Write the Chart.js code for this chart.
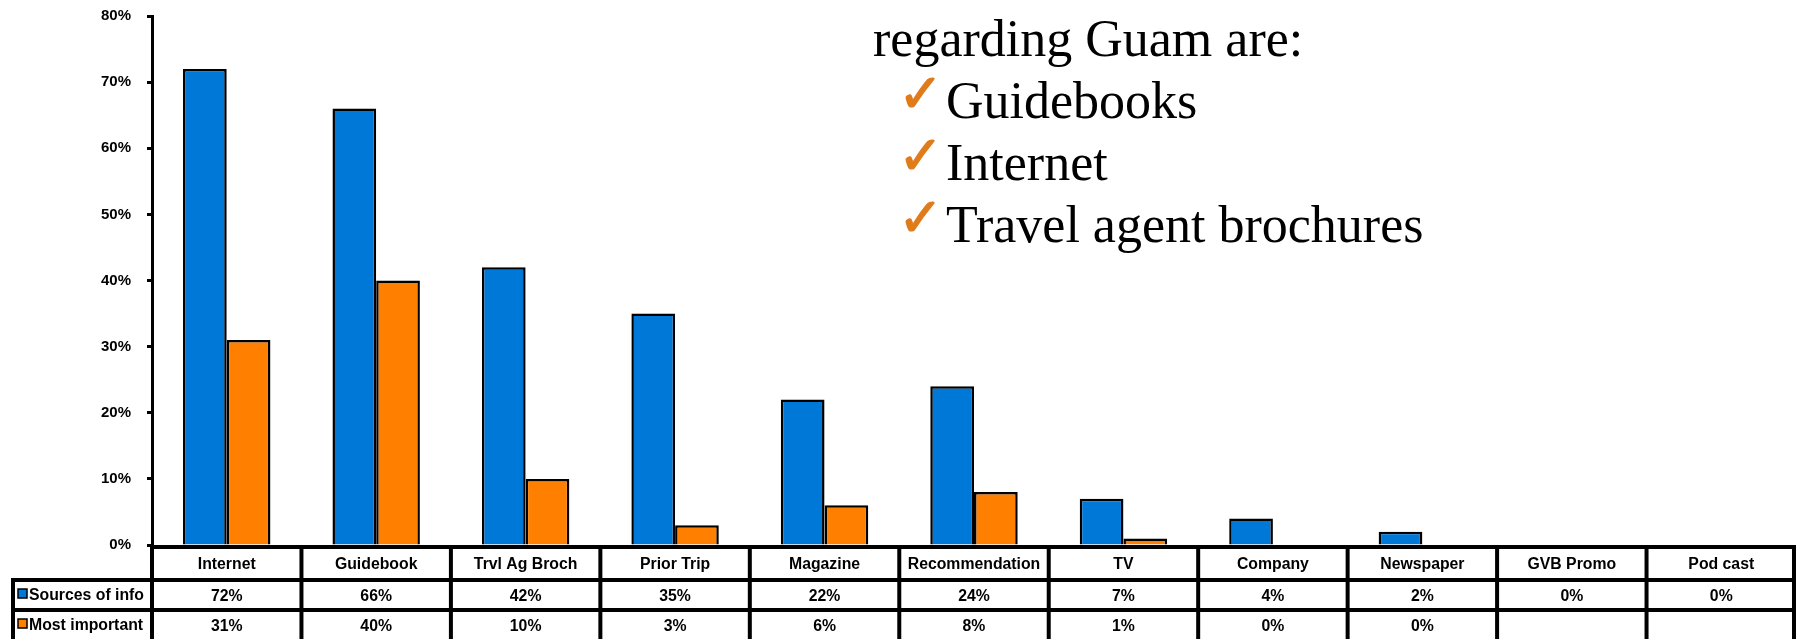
<!DOCTYPE html>
<html>
<head>
<meta charset="utf-8">
<title>Sources of information regarding Guam</title>
<script src="https://cdn.jsdelivr.net/npm/chart.js@4.4.1/dist/chart.umd.min.js"></script>
<style>
  html, body { margin: 0; padding: 0; background: #fff; overflow: hidden; }
  #wrap { position: relative; width: 1796px; height: 639px; }
  #chart { display: block; }
  #note {
    position: absolute; left: 873px; top: 8px;
    font-family: "Liberation Serif", "Times New Roman", serif;
    font-size: 52px; line-height: 62px; color: #000; white-space: nowrap;
  }
  #note .item { padding-left: 25px; }
  #note .chk {
    display: inline-block; width: 48px; line-height: 10px;
    font-family: "DejaVu Sans", sans-serif; font-size: 54px;
    color: #e07b1a; -webkit-text-stroke: 1.2px #e07b1a;
    position: relative; top: -6px;
  }
</style>
</head>
<body>
<div id="wrap">
  <canvas id="chart" width="1796" height="639"></canvas>
  <div id="note">
    <div>regarding Guam are:</div>
    <div class="item"><span class="chk">✓</span>Guidebooks</div>
    <div class="item"><span class="chk">✓</span>Internet</div>
    <div class="item"><span class="chk">✓</span>Travel agent brochures</div>
  </div>
</div>
<script>
const categories = ['Internet', 'Guidebook', 'Trvl Ag Broch', 'Prior Trip', 'Magazine',
  'Recommendation', 'TV', 'Company', 'Newspaper', 'GVB Promo', 'Pod cast'];
const seriesNames = ['Sources of info', 'Most important'];
const sourcesOfInfo = [72, 66, 42, 35, 22, 24, 7, 4, 2, 0, 0];
const mostImportant = [31, 40, 10, 3, 6, 8, 1, 0, 0, null, null];
const yTicks = [0, 10, 20, 30, 40, 50, 60, 70, 80];

const BLUE = '#0078d7';
const ORANGE = '#ff7f00';
const FONT = '"Liberation Sans", Arial, sans-serif';

// data table under the plot, columns follow the category scale
const dataTable = {
  id: 'dataTable',
  afterDraw(chart) {
    const ctx = chart.ctx;
    const area = chart.chartArea;
    const x = chart.scales.x;
    const colW = (area.right - area.left) / categories.length;
    const top = area.bottom + 2;
    const rows = [top, 580, 610, 650];
    const rowValues = [sourcesOfInfo, mostImportant];
    const colors = [BLUE, ORANGE];

    ctx.save();
    ctx.strokeStyle = '#000';
    ctx.lineWidth = 4;
    ctx.beginPath();
    ctx.moveTo(area.left - 2, rows[0]); ctx.lineTo(1796, rows[0]);
    ctx.moveTo(12, rows[1]); ctx.lineTo(1796, rows[1]);
    ctx.moveTo(12, rows[2]); ctx.lineTo(1796, rows[2]);
    ctx.moveTo(13, rows[1] - 2); ctx.lineTo(13, 639);
    for (let i = 0; i <= categories.length; i++) {
      let cx = Math.min(area.left + i * colW, 1794);
      ctx.moveTo(cx, rows[0]); ctx.lineTo(cx, 639);
    }
    ctx.stroke();

    ctx.fillStyle = '#000';
    ctx.font = 'bold 15.8px ' + FONT;
    ctx.textAlign = 'center';
    ctx.textBaseline = 'middle';
    categories.forEach((c, i) => {
      const cx = x.getPixelForValue(i);
      ctx.fillText(c, cx, (rows[0] + rows[1]) / 2 + 1);
      rowValues.forEach((vals, r) => {
        const v = vals[i];
        if (v !== null) ctx.fillText(v + '%', cx, r ? 627 : 597);
      });
    });

    // legend keys
    ctx.textAlign = 'left';
    seriesNames.forEach((name, r) => {
      const cy = r ? 626 : 596;
      ctx.fillStyle = colors[r];
      ctx.fillRect(18, cy - 7, 9, 9);
      ctx.lineWidth = 1.5;
      ctx.strokeRect(18, cy - 7, 9, 9);
      ctx.fillStyle = '#000';
      ctx.fillText(name, 29, cy);
    });
    ctx.restore();
  }
};

new Chart(document.getElementById('chart'), {
  type: 'bar',
  data: {
    labels: categories,
    datasets: [
      { label: seriesNames[0], data: sourcesOfInfo, backgroundColor: BLUE },
      { label: seriesNames[1], data: mostImportant, backgroundColor: ORANGE }
    ]
  },
  options: {
    responsive: false,
    animation: false,
    layout: { padding: { top: 16, bottom: 94, left: 0, right: 0 } },
    datasets: {
      bar: {
        borderColor: '#000',
        borderWidth: 2.5,
        categoryPercentage: 0.585,
        barPercentage: 1.0
      }
    },
    plugins: {
      legend: { display: false },
      tooltip: { enabled: false }
    },
    scales: {
      x: { display: false },
      y: {
        min: 0,
        max: 80,
        afterFit(scale) {
          scale.width = 152;
          scale.paddingTop = 0;
          scale.paddingBottom = 0;
        },
        afterBuildTicks(scale) { scale.ticks = yTicks.map(v => ({ value: v })); },
        ticks: {
          padding: 16,
          color: '#000',
          font: { family: FONT, size: 15, weight: 'bold' },
          callback: v => v + '%'
        },
        grid: {
          drawOnChartArea: false,
          drawTicks: true,
          tickLength: 5,
          tickWidth: 3,
          tickColor: '#000'
        },
        border: { display: true, color: '#000', width: 3 }
      }
    }
  },
  plugins: [dataTable]
});
</script>
</body>
</html>
